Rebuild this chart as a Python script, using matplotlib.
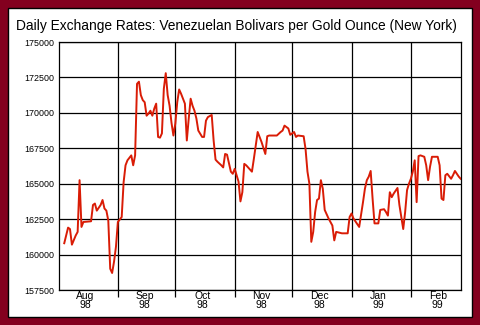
import pandas as pd
import matplotlib
matplotlib.use("Agg")
import matplotlib.pyplot as plt
import matplotlib.dates as mdates
from matplotlib.patches import Rectangle

plt.rcParams['font.family'] = ['Liberation Sans', 'DejaVu Sans']

# daily rates, bolivars per gold ounce
dates = [
    "1998-08-04", "1998-08-06", "1998-08-07", "1998-08-08", "1998-08-10", "1998-08-11", "1998-08-12",
    "1998-08-13", "1998-08-14", "1998-08-18", "1998-08-19", "1998-08-20", "1998-08-21", "1998-08-23",
    "1998-08-24", "1998-08-25", "1998-08-26", "1998-08-27", "1998-08-28", "1998-08-29", "1998-08-30",
    "1998-08-31",
    "1998-09-01", "1998-09-03", "1998-09-04", "1998-09-05", "1998-09-06", "1998-09-08", "1998-09-09",
    "1998-09-10", "1998-09-11", "1998-09-12", "1998-09-13", "1998-09-14", "1998-09-15", "1998-09-16",
    "1998-09-17", "1998-09-18", "1998-09-19", "1998-09-20", "1998-09-21", "1998-09-22", "1998-09-23",
    "1998-09-24", "1998-09-25", "1998-09-26", "1998-09-27", "1998-09-28", "1998-09-29", "1998-09-30",
    "1998-10-01", "1998-10-02", "1998-10-03", "1998-10-04", "1998-10-05", "1998-10-06", "1998-10-07",
    "1998-10-08", "1998-10-09", "1998-10-10", "1998-10-11", "1998-10-12", "1998-10-13", "1998-10-15",
    "1998-10-16", "1998-10-17", "1998-10-18", "1998-10-20", "1998-10-21", "1998-10-22", "1998-10-23",
    "1998-10-25", "1998-10-26", "1998-10-27", "1998-10-28", "1998-10-30", "1998-10-31",
    "1998-11-01", "1998-11-03", "1998-11-04", "1998-11-05", "1998-11-06", "1998-11-07", "1998-11-10",
    "1998-11-11", "1998-11-13", "1998-11-15", "1998-11-17", "1998-11-18", "1998-11-19", "1998-11-23",
    "1998-11-25", "1998-11-26", "1998-11-27", "1998-11-29", "1998-11-30",
    "1998-12-02", "1998-12-03", "1998-12-04", "1998-12-07", "1998-12-08", "1998-12-09", "1998-12-10",
    "1998-12-11", "1998-12-12", "1998-12-13", "1998-12-14", "1998-12-15", "1998-12-16", "1998-12-17",
    "1998-12-18", "1998-12-20", "1998-12-22", "1998-12-23", "1998-12-24", "1998-12-27", "1998-12-30",
    "1998-12-31",
    "1999-01-01", "1999-01-02", "1999-01-05", "1999-01-07", "1999-01-08", "1999-01-09", "1999-01-10",
    "1999-01-11", "1999-01-12", "1999-01-13", "1999-01-15", "1999-01-16", "1999-01-18", "1999-01-19",
    "1999-01-20", "1999-01-21", "1999-01-22", "1999-01-23", "1999-01-25", "1999-01-26", "1999-01-27",
    "1999-01-28", "1999-01-29", "1999-01-30", "1999-01-31",
    "1999-02-01", "1999-02-02", "1999-02-03", "1999-02-04", "1999-02-05", "1999-02-06", "1999-02-08",
    "1999-02-09", "1999-02-10", "1999-02-11", "1999-02-12", "1999-02-15", "1999-02-16", "1999-02-17",
    "1999-02-18", "1999-02-19", "1999-02-20", "1999-02-22", "1999-02-23", "1999-02-24", "1999-02-26",
    "1999-02-27",
]
rates = [
    160800, 161900, 161800, 160700, 161350, 161600, 165250,
    161950, 162300, 162350, 163500, 163600, 163100, 163500,
    163850, 163250, 163100, 162400, 159000, 158700, 159500,
    160550,
    162300, 162650, 165100, 166300, 166650, 167000, 166300,
    167000, 172050, 172200, 171250, 170900, 170750, 169800,
    169950, 170150, 169800, 170300, 170650, 168300, 168250,
    168550, 171700, 172800, 171250, 170500, 169300, 168400,
    169250, 170750, 171650, 171350, 171000, 170650, 168050,
    169600, 171000, 170500, 170150, 169600, 168750, 168300,
    168300, 169450, 169700, 169850, 168050, 166700, 166550,
    166300, 166150, 167100, 167050, 165850, 165700,
    166050, 165150, 163750, 164400, 166400, 166300, 165850,
    166750, 168650, 167950, 167100, 168350, 168400, 168400,
    168650, 168750, 169100, 168900, 168450,
    168650, 168300, 168400, 168350, 167450, 165850, 165000,
    160900, 161600, 163000, 163850, 163950, 165250, 164650,
    163150, 162550, 162050, 161000, 161600, 161500, 161500,
    162650,
    162900, 162550, 161950, 163700, 164650, 165250, 165500,
    165900, 163950, 162200, 162200, 163150, 163200, 163000,
    162750, 164400, 164050, 164300, 164700, 163500, 162650,
    161800, 163000, 164550, 165000,
    165350, 165850, 166650, 163700, 166950, 167000, 166900,
    166300, 165250, 166200, 166900, 166900, 166300, 163950,
    163850, 165600, 165700, 165350, 165600, 165900, 165500,
    165350,
]

title = "Daily Exchange Rates: Venezuelan Bolivars per Gold Ounce (New York)"
yticks = [157500, 160000, 162500, 165000, 167500, 170000, 172500, 175000]
month_starts = ["1998-09-01", "1998-10-01", "1998-11-01", "1998-12-01", "1999-01-01", "1999-02-01"]
label_days = ["1998-08-15", "1998-09-15", "1998-10-15", "1998-11-15", "1998-12-15", "1999-01-15", "1999-02-15"]
month_labels = ["Aug\n98", "Sep\n98", "Oct\n98", "Nov\n98", "Dec\n98", "Jan\n99", "Feb\n99"]

x = pd.to_datetime(dates)

fig = plt.figure(figsize=(4.8, 3.25), dpi=100, facecolor='#83001f')
# white panel with black edge
fig.patches.append(Rectangle((8/480, 8/325), 464/480, 309/325, transform=fig.transFigure,
                             facecolor='white', edgecolor='black', linewidth=1.0, zorder=-5))

fig.text(16/480, 1 - 26/325, title, fontsize=9.95, va='center', ha='left', color='black')

ax = fig.add_axes([58.5/480, 35/325, 402.5/480, 248/325])
ax.set_zorder(2)
ax.patch.set_alpha(0)
ax.plot(x, rates, color='#d91c06', linewidth=1.4, zorder=3)

ax.set_ylim(157500, 175000)
ax.set_xlim(pd.Timestamp("1998-08-01"), pd.Timestamp("1999-02-27 04:00"))
ax.set_yticks(yticks)
ax.set_yticklabels([str(v) for v in yticks], fontsize=6.4)
ax.tick_params(axis='y', length=0, pad=3)

ax.set_xticks(mdates.date2num(pd.to_datetime(month_starts)))
ax.set_xticklabels([])
ax.tick_params(axis='x', which='major', length=5, width=0.9, direction='out', color='black')
ax.set_xticks(mdates.date2num(pd.to_datetime(label_days)), minor=True)
ax.set_xticklabels(month_labels, minor=True, fontsize=7.5, linespacing=0.85)
ax.tick_params(axis='x', which='minor', length=0, pad=1)

ax.grid(True, which='major', color='black', linewidth=0.9)
ax.set_axisbelow(True)
for s in ax.spines.values():
    s.set_color('black')
    s.set_linewidth(0.9)

fig.savefig("out.png", dpi=100, facecolor=fig.get_facecolor())
